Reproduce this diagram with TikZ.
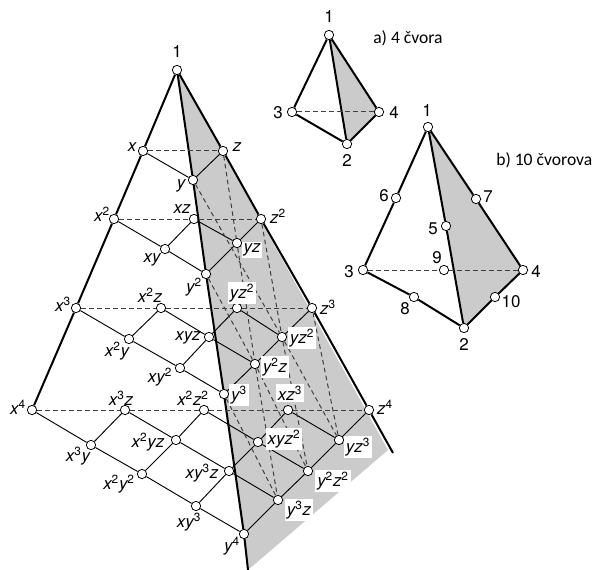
\documentclass[tikz,border=0pt]{standalone}
\usepackage{fontspec}
\setmainfont{TeX Gyre Heros}
\newfontfamily\capfont{Carlito}
\usetikzlibrary{backgrounds}
\newcommand{\pw}[1]{\textsuperscript{\upshape #1}}
\definecolor{facegray}{RGB}{203,203,203}
\tikzset{
  knot/.style={circle,draw,fill=white,inner sep=0pt,minimum size=7pt,line width=.6pt},
  edgemain/.style={line width=1.5pt},
  edgegrid/.style={line width=.7pt},
  edgehid/.style={line width=.75pt,dash pattern=on 3.4pt off 2.6pt,black!75},
  lbl/.style={font=\fontsize{12.7}{14}\selectfont\itshape,inner sep=0pt},
  lblw/.style={lbl,fill=white,inner sep=1.5pt},
  num/.style={font=\fontsize{12.7}{14}\selectfont,inner sep=0pt},
  captext/.style={font=\fontsize{13.2}{15}\selectfont\capfont,inner sep=0pt}
}
\begin{document}
\begin{tikzpicture}[x=.75pt,y=-.75pt]
\useasboundingbox (0,0) rectangle (595,570);
% large tetrahedron
\foreach \n/\px/\py in {o/177/70,x/143/151,y/193/180,z/223/151,
  xx/114/219,xy/165/249,yy/206/274,xz/194/219,yz/237/243,zz/261/219,
  xxx/76/308,xxy/129/339,xyy/180/368,yyy/224/394,xxz/161/308,xyz/209/337,
  yyz/255/364,xzz/237/308,yzz/282/337,zzz/312/308,
  xxxx/32/410,xxxy/91/445,xxyy/142/474,xyyy/196/506,yyyy/244/534,
  xxxz/125/410,xxyz/176/440,xyyz/229/471,yyyz/278/500,
  xxzz/204/410,xyzz/258/442,yyzz/308/471,xzzz/288/410,yzzz/339/440,zzzz/369/410}
  \node[knot] (\n) at (\px,\py) {};
\coordinate (yend) at (248,570);
\coordinate (zend) at (393,453);
\coordinate (gend) at (388,450);
\begin{scope}[on background layer]
\fill[facegray] (o.center) -- (gend) -- (yend) -- cycle;
\end{scope}
\draw[edgemain] (o) -- (x) -- (xx) -- (xxx) -- (xxxx);
\draw[edgemain] (o) -- (y) -- (yy) -- (yyy) -- (yyyy) -- (yend);
\draw[edgemain] (o) -- (z) -- (zz) -- (zzz) -- (zzzz) -- (zend);
\draw[edgegrid] (x) -- (y) -- (z);
\draw[edgegrid] (xx) -- (xy) -- (yy) -- (yz) -- (zz);
\draw[edgegrid] (xy) -- (xz) -- (yz);
\draw[edgegrid] (xxx) -- (xxy) -- (xyy) -- (yyy) -- (yyz) -- (yzz) -- (zzz);
\draw[edgegrid] (xxy) -- (xxz) -- (xyz) -- (yyz);
\draw[edgegrid] (xyy) -- (xyz) -- (xzz) -- (yzz);
\draw[edgegrid] (xxxx) -- (xxxy) -- (xxyy) -- (xyyy) -- (yyyy) -- (yyyz) -- (yyzz) -- (yzzz) -- (zzzz);
\draw[edgegrid] (xxxy) -- (xxxz) -- (xxyz) -- (xyyz) -- (yyyz);
\draw[edgegrid] (xxyy) -- (xxyz) -- (xxzz) -- (xyzz) -- (yyzz);
\draw[edgegrid] (xyyy) -- (xyyz) -- (xyzz) -- (xzzz) -- (yzzz);
\draw[edgehid] (x) -- (z);
\draw[edgehid] (xx) -- (xz) -- (zz);
\draw[edgehid] (xxx) -- (xxz) -- (xzz) -- (zzz);
\draw[edgehid] (xxxx) -- (xxxz) -- (xxzz) -- (xzzz) -- (zzzz);
\draw[edgehid] (z) -- (yz) -- (yyz) -- (yyyz);
\draw[edgehid] (y) -- (yzz) -- (yzzz);
\draw[edgehid] (zz) -- (yzz) -- (yyzz);
\draw[edgehid] (yy) -- (yyz) -- (yyzz);
\draw[edgehid] (zzz) -- (yzzz);
\draw[edgehid] (yyy) -- (yyyz);
\foreach \n/\px/\py/\t in {o/177/52/1}
  \node[num] (l\n) at (\px,\py) {\t};
\foreach \n/\px/\py/\t in {x/132/147/x,y/181/186/y,z/237/147/z,xz/182/209/xz,
  xx/102/214/{x\pw{2}},zz/278/216/{z\pw{2}},xy/152/260/xy,yy/194/287/{y\pw{2}},
  xxx/63/304/{x\pw{3}},xxz/150/295/{x\pw{2}z},zzz/328/307/{z\pw{3}},xyz/188/338/xyz,
  xxy/117/351/{x\pw{2}y},xyy/160/377/{xy\pw{2}},xxxx/18/407/{x\pw{4}},
  xxxz/121/398/{x\pw{3}z},xxzz/193/398/{x\pw{2}z\pw{2}},zzzz/385/407/{z\pw{4}},
  xxyz/148/442/{x\pw{2}yz},xxxy/78/456/{x\pw{3}y},xxyy/119/484/{x\pw{2}y\pw{2}},
  xyyz/202/473/{xy\pw{3}z},xyyy/189/522/{xy\pw{3}},yyyy/232/546/{y\pw{4}}}
  \node[lbl] (l\n) at (\px,\py) {\t};
\foreach \n/\px/\py/\t in {yz/252/250/yz,xzz/242/293/{yz\pw{2}},yzz/302/338/{yz\pw{2}},
  yyz/275/367/{y\pw{2}z},yyy/239/395/{y\pw{3}},xzzz/290/393/{xz\pw{3}},
  xyzz/284/439/{xyz\pw{2}},yzzz/358/447/{yz\pw{3}},yyzz/333/481/{y\pw{2}z\pw{2}},
  yyyz/299/510/{y\pw{3}z}}
  \node[lblw] (l\n) at (\px,\py) {\t};
% 4 nodes
\foreach \n/\px/\py in {aa/329/35,ab/347/144,ac/292/112,ad/379/112}
  \node[knot] (\n) at (\px,\py) {};
\begin{scope}[on background layer]
\fill[facegray] (aa.center) -- (ad.center) -- (ab.center) -- cycle;
\end{scope}
\draw[edgemain] (aa) -- (ac) -- (ab) -- (ad) -- (aa) -- (ab);
\draw[edgehid] (ac) -- (ad);
\foreach \n/\px/\py/\t in {aa/329/17/1,ab/347/160/2,ac/278/113/3,ad/394/112/4}
  \node[num] (l\n) at (\px,\py) {\t};
\node[captext,anchor=west] (acap) at (373,38) {a) 4 čvora};
% 10 nodes
\foreach \n/\px/\py in {ba/428/127,bf/396/198,bg/476/199,be/446/226,bc/363/270,
  bi/444/270,bd/523/270,bh/414/297,bj/495/297,bb/464/328}
  \node[knot] (\n) at (\px,\py) {};
\begin{scope}[on background layer]
\fill[facegray] (ba.center) -- (bd.center) -- (bb.center) -- cycle;
\end{scope}
\draw[edgemain] (ba) -- (bf) -- (bc) -- (bh) -- (bb) -- (bj) -- (bd) -- (bg) -- (ba) -- (be) -- (bb);
\draw[edgehid] (bc) -- (bi) -- (bd);
\foreach \n/\px/\py/\t in {ba/427/110/1,bf/384/196/6,bg/488/197/7,be/433/229/5,bc/349/272/3,
  bi/437/258/9,bd/536/271/4,bh/405/309/8,bj/511/302/10,bb/464/344/2}
  \node[num] (l\n) at (\px,\py) {\t};
\node[captext,anchor=west] (bcap) at (496,160) {b) 10 čvorova};
\end{tikzpicture}
\end{document}
